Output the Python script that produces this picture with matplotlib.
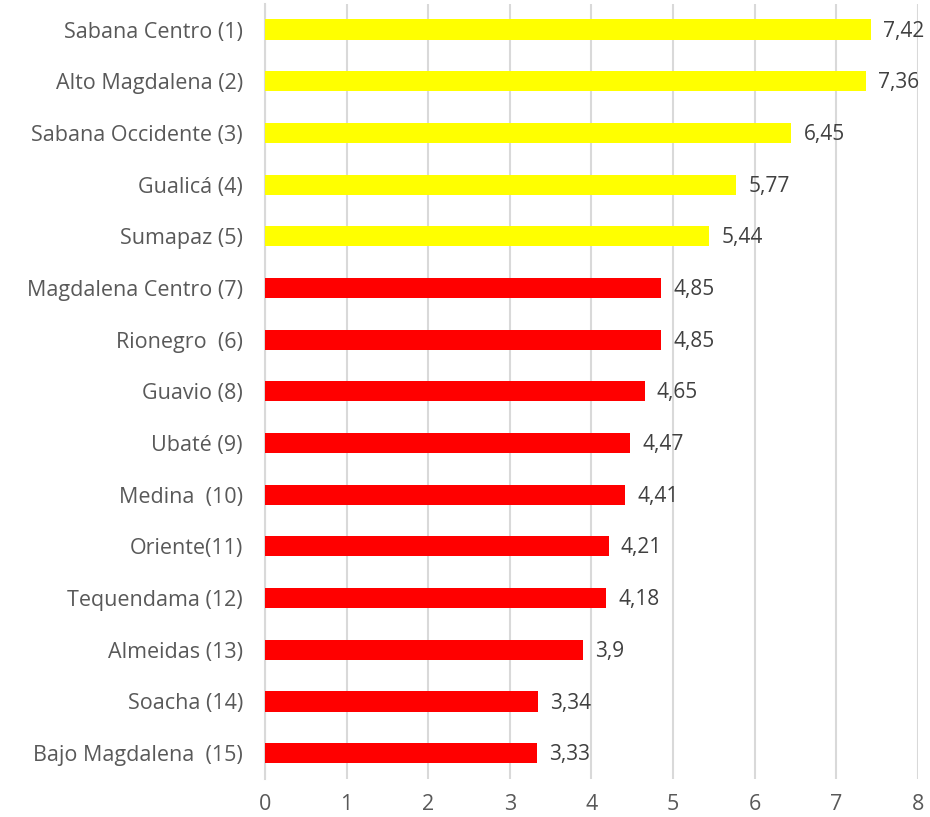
import matplotlib.pyplot as plt

# datos por provincia
provincias = ["Sabana Centro (1)", "Alto Magdalena (2)", "Sabana Occidente (3)",
              "Gualicá (4)", "Sumapaz (5)", "Magdalena Centro (7)", "Rionegro  (6)",
              "Guavio (8)", "Ubaté (9)", "Medina  (10)", "Oriente(11)",
              "Tequendama (12)", "Almeidas (13)", "Soacha (14)", "Bajo Magdalena  (15)"]
valores = [7.42, 7.36, 6.45, 5.77, 5.44, 4.85, 4.85, 4.65, 4.47, 4.41, 4.21,
           4.18, 3.9, 3.34, 3.33]
etiquetas = ["7,42", "7,36", "6,45", "5,77", "5,44", "4,85", "4,85", "4,65",
             "4,47", "4,41", "4,21", "4,18", "3,9", "3,34", "3,33"]
colores = ["#ffff00"] * 5 + ["#ff0000"] * 10

plt.rcParams['font.family'] = ['Open Sans', 'DejaVu Sans']

fig = plt.figure(figsize=(9.3, 8.17), dpi=100)
ax = fig.add_axes([0.285, 0.0465, 0.702, 0.949])

y = list(range(len(provincias)))
ax.barh(y, valores, height=0.39, color=colores, zorder=3)

for yi, v, t in zip(y, valores, etiquetas):
    ax.text(v + 0.15, yi + 0.03, t, va="center", ha="left", fontsize=15, color="#404040")

ax.set_yticks(y)
ax.set_yticklabels(provincias, fontsize=15.5, color="#595959")
ax.set_ylim(len(provincias) - 0.5, -0.5)
ax.set_xlim(0, 8)
ax.set_xticks(range(9))
ax.tick_params(axis="x", labelsize=15.5, labelcolor="#595959", length=0, pad=11)
ax.tick_params(axis="y", length=0, pad=16)

ax.grid(axis="x", color="#d9d9d9", linewidth=1.5, zorder=0)
for s in ["top", "right", "bottom"]:
    ax.spines[s].set_visible(False)
ax.spines["left"].set_color("#d9d9d9")
ax.spines["left"].set_linewidth(1.5)

fig.savefig("out.png", dpi=100)
